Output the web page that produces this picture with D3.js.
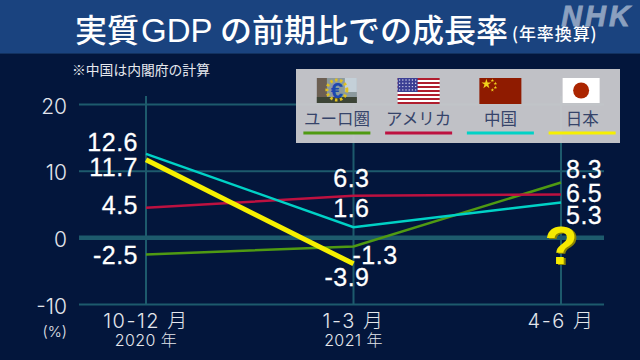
<!DOCTYPE html>
<html>
<head>
<meta charset="utf-8">
<script src="https://cdn.jsdelivr.net/npm/d3@7"></script>
<style>
  html, body { margin: 0; padding: 0; background: #03163c; overflow: hidden; }
  text { font-family: "Liberation Sans", "Noto Sans CJK JP", sans-serif; }
  .jp { font-family: "Noto Sans CJK JP", sans-serif; }
  .light { font-family: Inter, "Noto Sans CJK JP", sans-serif; font-weight: 300; }
</style>
</head>
<body>
<svg id="chart" width="640" height="360"></svg>
<script>
const quarters = ["10-12 月", "1-3 月", "4-6 月"];
const years = ["2020 年", "2021 年", ""];
const yTicks = [20, 10, 0, -10];

const seriesNames = ["ユーロ圏", "アメリカ", "中国", "日本"];
const euroValues = [-2.5, -1.3, 8.3];
const usValues = [4.5, 6.3, 6.5];
const chinaValues = [12.6, 1.6, 5.3];
const japanValues = [11.7, -3.9, null];
const seriesColors = ["#4f9a12", "#bd1140", "#00d2c6", "#f6f000"];
const seriesWidths = [2.5, 2.5, 2.5, 5];

// label nudges per series and quarter: [dx, dy, anchor]
const labelPlace = [
  [[-8, 9, "end"], [-1, 17, "start"], [5, -5, "start"]],
  [[-8, 6.5, "end"], [16, -9, "end"], [5, 7, "start"]],
  [[-8, -2.5, "end"], [16, -10, "end"], [5, 21, "start"]],
  [[-8, 16.5, "end"], [16, 22.5, "end"], null]
];

function translate(a, b) {
  return "translate(" + a + "," + b + ")";
}

const svg = d3.select("#chart");

const x = d3.scalePoint().domain(quarters).range([146, 561]);
const y = d3.scaleLinear().domain([-10, 20]).range([304.5, 104.5]);

// header
svg.append("rect").attr("width", 640).attr("height", 53).attr("fill", "#1a437f");
svg.append("rect").attr("y", 53).attr("width", 640).attr("height", 1).attr("fill", "#12315f");

const title = svg.append("text").attr("class", "jp").attr("y", 42).attr("fill", "#fff");
title.append("tspan").attr("x", 75).attr("font-size", 32).attr("font-weight", 500).text("実質");
title.append("tspan").attr("x", 141).attr("font-size", 33).attr("font-weight", 500).attr("font-family", "Liberation Sans").text("GDP");
title.append("tspan").attr("x", 220).attr("font-size", 32).attr("font-weight", 500).text("の前期比での成長率");
svg.append("text").attr("class", "jp").attr("x", 512).attr("y", 40).attr("font-size", 17)
  .attr("letter-spacing", 0.9).attr("font-weight", 500).attr("fill", "#fff").text("(年率換算)");

svg.append("text").attr("x", 633).attr("y", 26).attr("text-anchor", "end")
  .attr("font-size", 29).attr("font-weight", 700).attr("font-style", "italic")
  .attr("letter-spacing", 3).attr("fill", "#8ba0bf").attr("stroke", "#8ba0bf").attr("stroke-width", 0.8).text("NHK");

svg.append("text").attr("class", "jp").attr("x", 72).attr("y", 75).attr("font-size", 13.8)
  .attr("fill", "#e6e8ee").text("※中国は内閣府の計算");

// grid
const grid = svg.append("g").attr("stroke", "#1d5a6c");
grid.selectAll("line.h").data(yTicks).join("line")
  .attr("x1", 79).attr("x2", 604)
  .attr("y1", d => y(d)).attr("y2", d => y(d))
  .attr("stroke-width", d => (d === 0 ? 4.5 : 2));
grid.selectAll("line.v").data(quarters).join("line")
  .attr("x1", d => x(d)).attr("x2", d => x(d))
  .attr("y1", 96).attr("y2", y(-10))
  .attr("stroke-width", 2);

// y tick labels
svg.selectAll("text.ytick").data(yTicks).join("text")
  .attr("class", "ytick light")
  .attr("x", 67).attr("y", d => y(d) + 9)
  .attr("text-anchor", "end").attr("font-size", 21)
  .attr("fill", "#e4e6ec").text(d => d);
svg.append("text").attr("class", "light").attr("x", 67).attr("y", 337).attr("text-anchor", "end")
  .attr("font-size", 15).attr("fill", "#e4e6ec").text("(%)");

// x tick labels
svg.selectAll("text.xtick").data(quarters).join("text")
  .attr("class", "xtick light")
  .attr("x", d => x(d)).attr("y", 328)
  .attr("text-anchor", "middle").attr("font-size", 20).attr("letter-spacing", 1.5)
  .attr("fill", "#e4e6ec").text(d => d);
svg.selectAll("text.year").data(years).join("text")
  .attr("class", "year light")
  .attr("x", (d, i) => x(quarters[i])).attr("y", 346)
  .attr("text-anchor", "middle").attr("font-size", 16).attr("letter-spacing", 0.4)
  .attr("fill", "#e4e6ec").text(d => d);

// series
const allSeries = [euroValues, usValues, chinaValues, japanValues];
const line = d3.line()
  .defined(d => d !== null)
  .x((d, i) => x(quarters[i]))
  .y(d => y(d));

svg.selectAll("path.series").data(allSeries).join("path")
  .attr("class", "series")
  .attr("fill", "none")
  .attr("stroke", (d, i) => seriesColors[i])
  .attr("stroke-width", (d, i) => seriesWidths[i])
  .attr("d", line);

// value labels
allSeries.forEach((values, s) => {
  values.forEach((v, q) => {
    if (v === null) return;
    const p = labelPlace[s][q];
    svg.append("text")
      .attr("x", x(quarters[q]) + p[0])
      .attr("y", y(v) + p[1])
      .attr("text-anchor", p[2])
      .attr("font-size", 25)
      .attr("letter-spacing", 0.5)
      .attr("fill", "#fff")
      .attr("stroke", "#fff")
      .attr("stroke-width", 0.3)
      .text(v);
  });
});

// question mark for japan's unknown quarter
const qx = x(quarters[2]);
svg.append("text").attr("x", qx + 2).attr("y", 265).attr("text-anchor", "middle")
  .attr("font-size", 54).attr("font-weight", 700).attr("fill", "#8c8400").text("?");
svg.append("text").attr("x", qx).attr("y", 264).attr("text-anchor", "middle")
  .attr("font-size", 54).attr("font-weight", 700).attr("fill", "#f6ea00").text("?");

// legend
const legend = svg.append("g");
legend.append("rect").attr("x", 296).attr("y", 69).attr("width", 324).attr("height", 74)
  .attr("fill", "#cacacd").attr("fill-opacity", 0.95);

const legendX = d3.scaleBand().domain(seriesNames).range([296, 623]);
const item = legend.selectAll("g.item").data(seriesNames).join("g")
  .attr("class", "item")
  .attr("transform", d => translate(legendX(d) + legendX.bandwidth() / 2, 0));
item.append("text").attr("class", "jp")
  .attr("y", 125).attr("text-anchor", "middle").attr("font-size", 16.5)
  .attr("fill", "#36446a").text(d => d);
item.append("line")
  .attr("x1", -33.5).attr("x2", 33.5).attr("y1", 133).attr("y2", 133)
  .attr("stroke", (d, i) => seriesColors[i]).attr("stroke-width", 3);

// flags
const euroFlag = legend.select("g.item:nth-child(2)").append("g").attr("transform", translate(0, 78));
euroFlag.append("rect").attr("x", -20).attr("width", 40).attr("height", 25).attr("fill", "#8c9a9e");
euroFlag.append("rect").attr("x", -20).attr("width", 10).attr("height", 25).attr("fill", "#6c5f52");
euroFlag.append("rect").attr("x", 8).attr("width", 12).attr("height", 14).attr("fill", "#c4d0d8");
euroFlag.append("rect").attr("x", -20).attr("y", 19).attr("width", 40).attr("height", 6).attr("fill", "#3c4436");
euroFlag.append("circle").attr("r", 10).attr("cy", 12).attr("fill", "none")
  .attr("stroke", "#e0c020").attr("stroke-width", 3).attr("stroke-dasharray", "2.5 2.5");
euroFlag.append("text").attr("y", 20).attr("text-anchor", "middle").attr("font-size", 22)
  .attr("font-weight", 700).attr("fill", "#1d47b0").text("€");

const usFlag = legend.select("g.item:nth-child(3)").append("g").attr("transform", translate(0, 78));
d3.range(13).forEach(i => {
  usFlag.append("rect").attr("x", -21).attr("y", i * 2).attr("width", 42).attr("height", 2)
    .attr("fill", i % 2 ? "#fff" : "#b01d2e");
});
usFlag.append("rect").attr("x", -21).attr("width", 20).attr("height", 14).attr("fill", "#3b3f94");
d3.range(4).forEach(r => d3.range(6).forEach(c => {
  usFlag.append("circle").attr("cx", -19 + c * 3.2).attr("cy", 2 + r * 3.3).attr("r", 0.7).attr("fill", "#dfe0f0");
}));

const cnFlag = legend.select("g.item:nth-child(4)").append("g").attr("transform", translate(0, 78));
cnFlag.append("rect").attr("x", -21).attr("width", 42).attr("height", 26).attr("fill", "#8f1b00");
cnFlag.append("path").attr("d", d3.symbol(d3.symbolStar, 30)).attr("transform", translate(-14, 6)).attr("fill", "#f2d21b");
[[-8, 2.5], [-5, 5.5], [-5, 9.5], [-8, 12]].forEach(p => {
  cnFlag.append("path").attr("d", d3.symbol(d3.symbolStar, 4)).attr("transform", translate(p[0], p[1])).attr("fill", "#f2d21b");
});

const jpFlag = legend.select("g.item:nth-child(5)").append("g").attr("transform", translate(-1, 78));
jpFlag.append("rect").attr("x", -18.5).attr("width", 37).attr("height", 25).attr("fill", "#fff");
jpFlag.append("circle").attr("cy", 12.5).attr("r", 8).attr("fill", "#ab2500");
</script>
</body>
</html>
